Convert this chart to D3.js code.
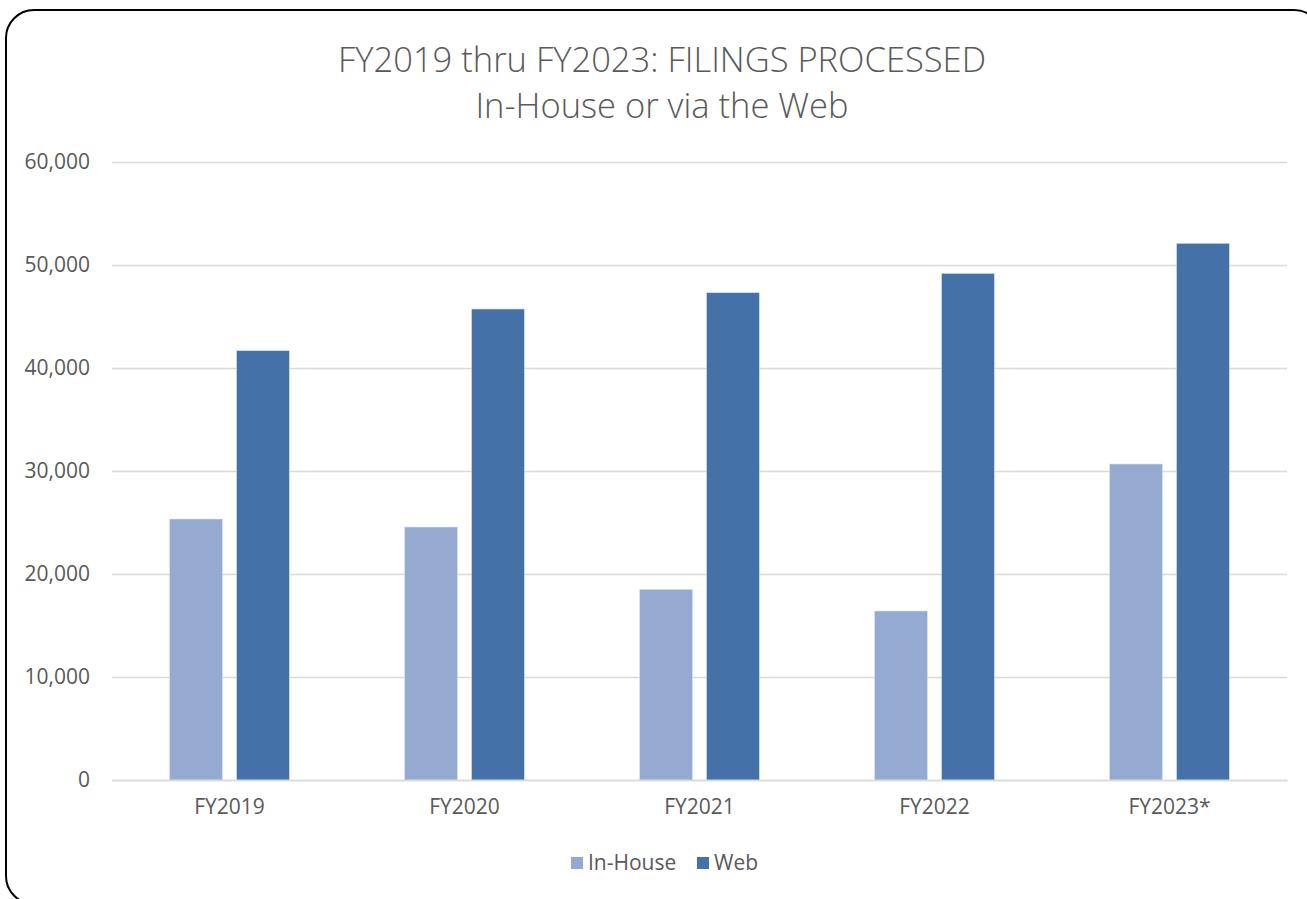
<!DOCTYPE html>
<html>
<head>
<meta charset="utf-8">
<script src="https://cdn.jsdelivr.net/npm/d3@7"></script>
<style>
    body { margin: 0; background: #fff; }
    text { font-family: "Open Sans", sans-serif; fill: #595959; }
</style>
</head>
<body>
<div id="chart"></div>
<script>
// values
let years = ['FY2019', 'FY2020', 'FY2021', 'FY2022', 'FY2023*'];
let inHouse = [25340, 24560, 18510, 16410, 30680];
let web = [41680, 45730, 47310, 49190, 52110];
let seriesNames = ['In-House', 'Web'];
let yTicks = [0, 10000, 20000, 30000, 40000, 50000, 60000];

let colors = { 'In-House': '#95aad0', 'Web': '#4472a8' };

let width = 1307, height = 899;
let plot = { left: 112, right: 1287, top: 162, bottom: 780 };
let labelSize = '21px';

let data = years.map((y, i) => ({ year: y, 'In-House': inHouse[i], 'Web': web[i] }));

let svg = d3.select('#chart')
    .append('svg')
    .attr('width', width)
    .attr('height', height);

// rounded frame, runs a little off the right and bottom of the picture
svg.append('rect')
    .attr('x', 6).attr('y', 10)
    .attr('width', 1316).attr('height', 894)
    .attr('rx', 28).attr('ry', 28)
    .attr('fill', '#fff')
    .attr('stroke', '#000')
    .attr('stroke-width', 2);

let y = d3.scaleLinear()
    .domain([0, 60000])
    .range([plot.bottom, plot.top]);

let x0 = d3.scaleBand()
    .domain(years)
    .range([plot.left, plot.right]);

let bw = x0.bandwidth();
let x1 = d3.scaleBand()
    .domain(seriesNames)
    .range([bw * 0.245, bw * 0.755])
    .paddingInner(0.209);

// gridlines + y labels
let yAxis = d3.axisLeft(y)
    .tickValues(yTicks)
    .tickSize(-(plot.right - plot.left))
    .tickPadding(22)
    .tickFormat(d3.format(','));

let ga = svg.append('g')
    .attr('transform', `translate(${plot.left},0)`)
    .call(yAxis);
ga.select('.domain').remove();
ga.selectAll('.tick line')
    .attr('stroke', '#d9d9d9')
    .attr('stroke-width', 1.5);
ga.selectAll('.tick text')
    .style('font-size', labelSize)
    .attr('fill', '#595959');

// bars
let groups = svg.append('g')
    .selectAll('g')
    .data(data)
    .enter()
    .append('g')
    .attr('transform', d => `translate(${x0(d.year)},0)`);

groups.selectAll('rect')
    .data(d => seriesNames.map(k => ({ key: k, value: d[k] })))
    .enter()
    .append('rect')
    .attr('x', d => x1(d.key))
    .attr('y', d => y(d.value))
    .attr('width', x1.bandwidth())
    .attr('height', d => y(0) - y(d.value))
    .attr('fill', d => colors[d.key])
    .attr('stroke', '#dde4f0')
    .attr('stroke-width', 0.6);

// category axis
let xAxis = d3.axisBottom(x0).tickSize(0).tickPadding(19);
let gx = svg.append('g')
    .attr('transform', `translate(0,${plot.bottom})`)
    .call(xAxis);
gx.select('.domain')
    .attr('stroke', '#d9d9d9')
    .attr('stroke-width', 1.5);
gx.selectAll('.tick text')
    .style('font-size', labelSize)
    .attr('fill', '#595959');

// title
let title = svg.append('text')
    .attr('x', 662)
    .attr('text-anchor', 'middle')
    .style('font-size', '34.5px')
    .style('font-weight', 300);
title.append('tspan').attr('x', 662).attr('y', 72).text('FY2019 thru FY2023: FILINGS PROCESSED');
title.append('tspan').attr('x', 662).attr('y', 118).text('In-House or via the Web');

// legend
let legendPos = [571, 697];
let lg = svg.append('g')
    .selectAll('g')
    .data(seriesNames)
    .enter()
    .append('g')
    .attr('transform', (d, i) => `translate(${legendPos[i]},857)`);
lg.append('rect')
    .attr('width', 12).attr('height', 12)
    .attr('fill', d => colors[d]);
lg.append('text')
    .attr('x', 17).attr('y', 13)
    .style('font-size', labelSize)
    .text(d => d);
</script>
</body>
</html>
